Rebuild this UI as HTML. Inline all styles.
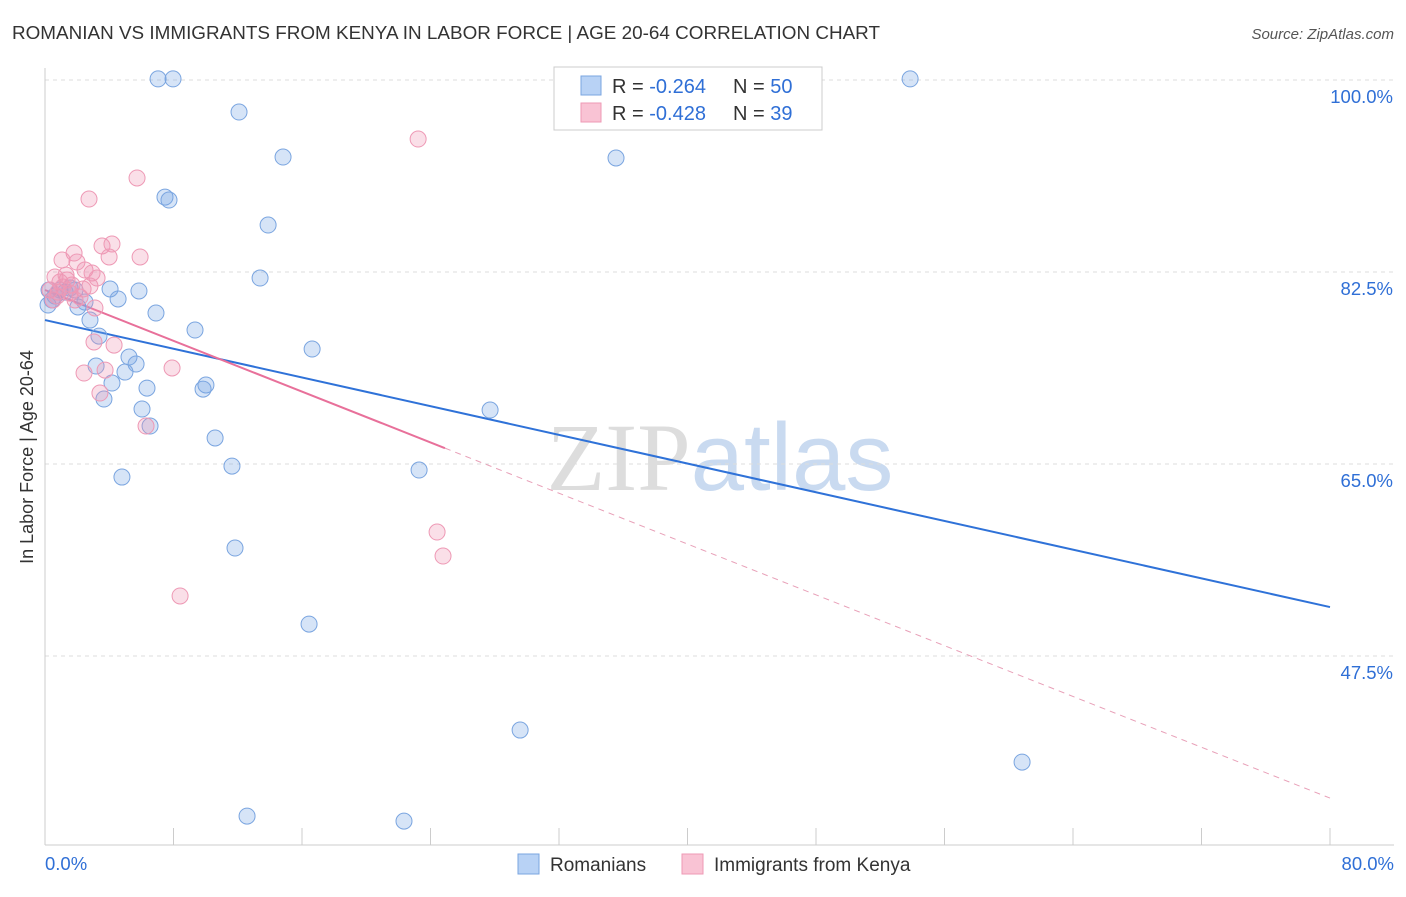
<!DOCTYPE html>
<html><head><meta charset="utf-8"><style>
body{margin:0;background:#fff;font-family:"Liberation Sans",sans-serif;}
svg text{font-family:"Liberation Sans",sans-serif;}
</style></head><body>
<svg id="chart" width="1406" height="892" xmlns="http://www.w3.org/2000/svg">
<text x="12" y="39" font-size="18" fill="#333" textLength="868" lengthAdjust="spacingAndGlyphs">ROMANIAN VS IMMIGRANTS FROM KENYA IN LABOR FORCE | AGE 20-64 CORRELATION CHART</text>
<text x="1394" y="39" font-size="15" fill="#555" font-style="italic" text-anchor="end">Source: ZipAtlas.com</text>
<text x="720" y="490" font-size="96" text-anchor="middle"><tspan fill="#ddd" font-family="Liberation Serif">ZIP</tspan><tspan fill="#c9daf0">atlas</tspan></text>
<g id="grid"></g>
<g id="axes"></g>
<g id="trend"></g>
<g id="points"></g>
<text transform="translate(33,457) rotate(-90)" font-size="18" fill="#333" text-anchor="middle">In Labor Force | Age 20-64</text>
<g>
<rect x="554" y="67" width="268" height="63" fill="#fff" stroke="#ccc"/>
<rect x="581" y="76" width="20" height="19" fill="#b8d2f5" stroke="#7aa5e0"/>
<text x="612" y="93" font-size="20" fill="#333">R = <tspan fill="#2f6fd6">-0.264</tspan></text>
<text x="733" y="93" font-size="20" fill="#333">N = <tspan fill="#2f6fd6">50</tspan></text>
<rect x="581" y="103" width="20" height="19" fill="#f9c3d4" stroke="#ee99b5"/>
<text x="612" y="120" font-size="20" fill="#333">R = <tspan fill="#2f6fd6">-0.428</tspan></text>
<text x="733" y="120" font-size="20" fill="#333">N = <tspan fill="#2f6fd6"> 39</tspan></text>
</g>
<g>
<rect x="518" y="854" width="21" height="20" fill="#b8d2f5" stroke="#7aa5e0"/>
<text x="550" y="871" font-size="19" fill="#333">Romanians</text>
<rect x="682" y="854" width="21" height="20" fill="#f9c3d4" stroke="#ee99b5"/>
<text x="714" y="871" font-size="19" fill="#333">Immigrants from Kenya</text>
</g>
</svg>
<script>
const blueX=[7.04,7.97,53.86,12.08,14.82,35.55,7.47,7.72,13.89,13.39,0.25,0.93,1.87,4.05,5.85,4.55,2.05,6.91,2.80,9.34,3.36,16.63,5.23,5.67,3.18,4.98,4.17,6.35,10.02,9.84,3.67,6.04,27.71,6.54,10.59,11.64,23.29,4.79,11.83,16.44,29.58,60.83,12.58,22.35,0.44,0.62,1.25,1.56,2.49,0.19];
const blueY=[100.1,100.1,100.1,97.08,92.98,92.89,89.33,89.06,86.78,81.95,80.86,80.86,80.86,80.95,80.77,80.04,79.31,78.76,78.12,77.21,76.66,75.48,74.75,74.11,73.93,73.38,72.38,71.92,72.20,71.83,70.92,70.01,69.92,68.46,67.37,64.81,64.45,63.81,57.34,50.41,40.75,37.83,32.91,32.45,79.95,80.31,80.67,81.04,79.76,79.49];
const pinkX=[23.23,5.73,2.74,1.81,3.55,4.17,3.99,5.92,1.06,1.99,2.49,2.93,0.62,0.93,1.37,3.24,0.31,0.81,1.68,2.18,3.11,3.05,4.30,3.74,2.43,7.91,3.42,6.29,24.41,24.78,8.41,0.50,1.12,1.56,2.37,1.31,2.80,0.75,1.87];
const pinkY=[94.62,91.07,89.15,84.23,84.87,85.05,83.87,83.87,83.59,83.41,82.68,82.41,82.04,81.59,81.77,81.95,80.86,80.67,81.31,80.22,79.22,76.12,75.84,73.56,73.29,73.75,71.47,68.46,58.80,56.61,52.97,79.95,81.13,80.58,80.95,82.22,81.22,80.31,79.95];
const blueTrend=[78.12,51.96]; // y at x=0 and x=80
const pinkTrend=[80.86,34.55];
const pinkSolidEnd=24.9;
const yTicks=[100,82.5,65,47.5];
const yTickLabels=["100.0%","82.5%","65.0%","47.5%"];
const xTickCount=10;

const NS="http://www.w3.org/2000/svg";
const sx=v=>45+v*(1285/80);
const sy=v=>80+(100-v)*(192/17.5);
function mk(tag,attrs,parent){const e=document.createElementNS(NS,tag);for(const k in attrs)e.setAttribute(k,attrs[k]);parent.appendChild(e);return e;}
const grid=document.getElementById('grid'),axes=document.getElementById('axes'),trend=document.getElementById('trend'),pts=document.getElementById('points');
yTicks.forEach((t,i)=>{
  const l=mk('line',{x1:45,x2:1394,y1:sy(t),y2:sy(t),stroke:'#ddd','stroke-dasharray':'4,4'},grid);
  
  
  const tx=mk('text',{x:1393,y:sy(t)+23,'font-size':18.5,fill:'#2f6fd6','text-anchor':'end'},axes);
  tx.textContent=yTickLabels[i];
  
  
});
mk('line',{x1:45,x2:45,y1:68,y2:845,stroke:'#ccc'},axes);
const xa=mk('line',{x1:45,x2:1394,y1:845,y2:845,stroke:'#ccc'},axes);


for(let i=0;i<=xTickCount;i++){const x=sx(i*80/xTickCount);mk('line',{x1:x,x2:x,y1:828,y2:845,stroke:'#ccc'},axes);}
const xl0=mk('text',{x:45,y:870,'font-size':18.5,fill:'#2f6fd6'},axes);xl0.textContent='0.0%';


const xl1=mk('text',{x:1394,y:870,'font-size':18.5,fill:'#2f6fd6','text-anchor':'end'},axes);xl1.textContent='80.0%';


const bl=mk('line',{x1:sx(0),y1:sy(blueTrend[0]),x2:sx(80),y2:sy(blueTrend[1]),stroke:'#2f72d8','stroke-width':2},trend);


const py=x=>pinkTrend[0]+(pinkTrend[1]-pinkTrend[0])*x/80;
const ps=mk('line',{x1:sx(0),y1:sy(py(0)),x2:sx(pinkSolidEnd),y2:sy(py(pinkSolidEnd)),stroke:'#e8709a','stroke-width':2},trend);


const pd=mk('line',{x1:sx(pinkSolidEnd),y1:sy(py(pinkSolidEnd)),x2:sx(80),y2:sy(py(80)),stroke:'#e8a0b8','stroke-width':1,'stroke-dasharray':'6,5'},trend);


blueX.forEach((x,i)=>{const c=mk('circle',{cx:sx(x),cy:sy(blueY[i]),r:8,fill:'rgba(120,165,230,0.3)',stroke:'#7aa5e0','stroke-width':1},pts);

});
pinkX.forEach((x,i)=>{const c=mk('circle',{cx:sx(x),cy:sy(pinkY[i]),r:8,fill:'rgba(240,150,180,0.3)',stroke:'#ee99b5','stroke-width':1},pts);

});
</script>
</body></html>
